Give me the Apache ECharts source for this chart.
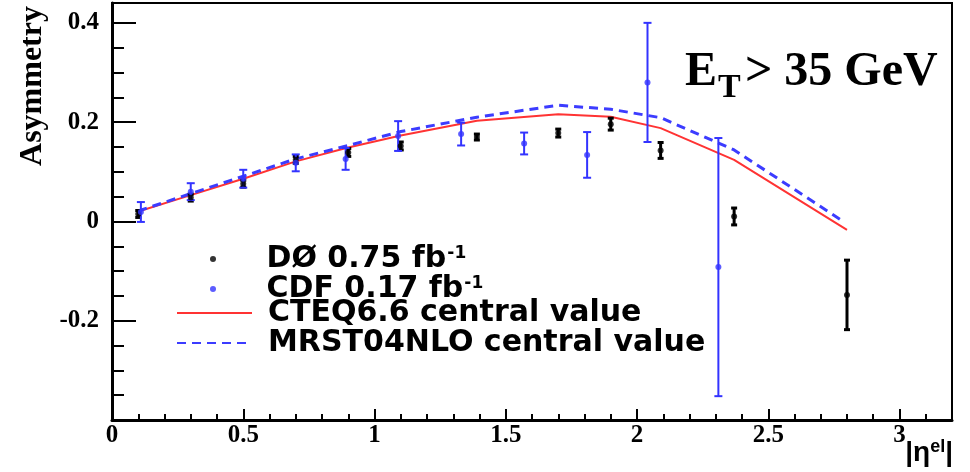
<!DOCTYPE html>
<html>
<head>
<meta charset="utf-8">
<script src="https://cdn.jsdelivr.net/npm/echarts/dist/echarts.min.js"></script>
<style>
  html, body { margin: 0; padding: 0; background: #fff; }
  #main { width: 970px; height: 472px; }
</style>
</head>
<body>
<div id="main"></div>
<script>
// DØ electron charge asymmetry, 0.75 fb-1
const d0Eta = [0.10, 0.30, 0.50, 0.70, 0.90, 1.10, 1.39, 1.70, 1.90, 2.09, 2.37, 2.80];
const d0Asym = [0.015, 0.048, 0.076, 0.124, 0.139, 0.152, 0.170, 0.178, 0.196, 0.143, 0.010, -0.148];
const d0Err = [0.007, 0.007, 0.007, 0.007, 0.008, 0.008, 0.006, 0.008, 0.012, 0.016, 0.017, 0.070];

// CDF, 0.17 fb-1
const cdfEta = [0.11, 0.30, 0.50, 0.70, 0.89, 1.09, 1.33, 1.57, 1.81, 2.04, 2.31];
const cdfAsym = [0.019, 0.060, 0.086, 0.118, 0.126, 0.172, 0.176, 0.157, 0.134, 0.280, -0.092];
const cdfErr = [0.020, 0.017, 0.018, 0.017, 0.022, 0.030, 0.023, 0.022, 0.046, 0.120, 0.260];

// theory predictions
const cteqEta = [0.10, 0.30, 0.50, 0.70, 0.90, 1.10, 1.39, 1.70, 1.90, 2.09, 2.37, 2.80];
const cteqAsym = [0.020, 0.053, 0.086, 0.121, 0.149, 0.173, 0.203, 0.216, 0.211, 0.188, 0.124, -0.017];
const mrstEta = [0.10, 0.30, 0.50, 0.70, 0.90, 1.10, 1.39, 1.70, 1.90, 2.09, 2.37, 2.78];
const mrstAsym = [0.021, 0.056, 0.091, 0.126, 0.153, 0.181, 0.210, 0.234, 0.226, 0.209, 0.144, 0.002];

const names = ['DØ 0.75 fb-1', 'CDF 0.17 fb-1', 'CTEQ6.6 central value', 'MRST04NLO central value'];

function pairs(xs, ys) {
  return xs.map(function (x, i) { return [x, ys[i]]; });
}

function triples(xs, ys, es) {
  return xs.map(function (x, i) { return [x, ys[i], es[i]]; });
}

// vertical error bar with small caps
function errorBar(color, cap, width) {
  return function (params, api) {
    const x = api.value(0);
    const top = api.coord([x, api.value(1) + api.value(2)]);
    const bot = api.coord([x, api.value(1) - api.value(2)]);
    const style = { stroke: color, lineWidth: width };
    return {
      type: 'group',
      children: [
        { type: 'line', shape: { x1: top[0], y1: top[1], x2: bot[0], y2: bot[1] }, style: style },
        { type: 'line', shape: { x1: top[0] - cap, y1: top[1], x2: top[0] + cap, y2: top[1] }, style: style },
        { type: 'line', shape: { x1: bot[0] - cap, y1: bot[1], x2: bot[0] + cap, y2: bot[1] }, style: style }
      ]
    };
  };
}

const legendFont = { fontFamily: 'DejaVu Sans', fontWeight: 'bold', color: '#000' };

// two stacked legends so the rows sit where the original ones do
function makeLegend(items, left, top) {
  return {
    data: items,
    orient: 'vertical',
    left: left,
    top: top,
    padding: 0,
    itemGap: 0,
    itemWidth: 75,
    itemHeight: 6,
    selectedMode: false,
    formatter: function (n) {
      const parts = n.split('fb-1');
      if (parts.length > 1) return '{t|' + parts[0] + 'fb}{s|-1}';
      return '{t|' + n + '}';
    },
    textStyle: {
      lineHeight: 28,
      padding: [0, 0, 0, 11],
      rich: {
        t: Object.assign({ fontSize: 30, lineHeight: 28 }, legendFont),
        s: Object.assign({ fontSize: 17, lineHeight: 28, verticalAlign: 'top', padding: [0, 0, 0, 1] }, legendFont)
      }
    }
  };
}

function getOption() {
  return {
    animation: false,
    backgroundColor: '#fff',
    grid: {
      left: 112, right: 18, top: 3, bottom: 52,
      show: true, borderColor: '#000', borderWidth: 2
    },
    legend: [
      makeLegend([{ name: names[0] }, { name: names[1] }], 210, 244),
      makeLegend([
        { name: names[2], itemStyle: { opacity: 0 } },
        { name: names[3], itemStyle: { opacity: 0 } }
      ], 176, 298)
    ],
    xAxis: [{
      type: 'value',
      position: 'bottom',
      min: 0,
      max: 3.2,
      interval: 0.5,
      axisLine: { onZero: false, lineStyle: { color: '#000', width: 3 } },
      axisTick: { inside: true, length: 11, lineStyle: { color: '#000', width: 2 } },
      axisLabel: {
        showMaxLabel: false,
        margin: 3,
        color: '#000',
        fontFamily: 'Liberation Serif',
        fontWeight: 'bold',
        fontSize: 25
      },
      splitLine: { show: false }
    }, {
      type: 'value',
      position: 'bottom',
      min: 0,
      max: 3.2,
      interval: 0.1,
      axisLine: { show: false, onZero: false },
      axisTick: { inside: true, length: 6, lineStyle: { color: '#000', width: 2 } },
      axisLabel: { show: false },
      splitLine: { show: false }
    }],
    yAxis: [{
      type: 'value',
      position: 'left',
      min: -0.4,
      max: 0.44,
      interval: 0.2,
      axisLine: { show: true, onZero: false, lineStyle: { color: '#000', width: 3 } },
      axisTick: { show: true, inside: true, length: 24, lineStyle: { color: '#000', width: 2 } },
      axisLabel: {
        showMinLabel: false,
        showMaxLabel: false,
        margin: 13,
        color: '#000',
        fontFamily: 'Liberation Serif',
        fontWeight: 'bold',
        fontSize: 25,
        formatter: function (v) { return String(Math.round(v * 10) / 10); }
      },
      splitLine: { show: false }
    }, {
      type: 'value',
      position: 'left',
      min: -0.4,
      max: 0.44,
      interval: 0.05,
      axisLine: { show: false, onZero: false },
      axisTick: { show: true, inside: true, length: 12, lineStyle: { color: '#000', width: 2 } },
      axisLabel: { show: false },
      splitLine: { show: false }
    }],
    graphic: [
      {
        type: 'text', x: 33, y: 86, rotation: Math.PI / 2,
        style: { text: 'Asymmetry', font: 'bold 32px "Liberation Serif"', fill: '#000', textAlign: 'center', textVerticalAlign: 'middle' }
      },
      { type: 'text', x: 685, y: 49, style: { text: 'E', font: 'bold 48px "Liberation Serif"', fill: '#000' } },
      { type: 'text', x: 718, y: 71, style: { text: 'T', font: 'bold 34px "Liberation Serif"', fill: '#000' } },
      { type: 'text', x: 745, y: 49, style: { text: '> 35 GeV', font: 'bold 48px "Liberation Serif"', fill: '#000' } },
      {
        // x axis title |eta^el|
        type: 'text', x: 953, y: 438,
        style: {
          text: '{t||η}{s|el}{t||}',
          align: 'right',
          verticalAlign: 'top',
          rich: {
            t: { fontFamily: 'Liberation Sans', fontWeight: 'bold', fontSize: 28, lineHeight: 30, fill: '#000' },
            s: { fontFamily: 'Liberation Sans', fontWeight: 'bold', fontSize: 18, lineHeight: 30, fill: '#000', verticalAlign: 'top' }
          }
        }
      }
    ],
    series: [{
      name: names[2],
      type: 'line',
      data: pairs(cteqEta, cteqAsym),
      symbol: 'none',
      showSymbol: false,
      lineStyle: { color: '#ff3333', width: 2 },
      itemStyle: { color: '#ff3333' },
      z: 2
    }, {
      name: names[3],
      type: 'line',
      data: pairs(mrstEta, mrstAsym),
      symbol: 'none',
      showSymbol: false,
      lineStyle: { color: '#3c3cff', width: 3, type: [9, 6] },
      itemStyle: { color: '#3c3cff' },
      z: 2
    }, {
      name: 'd0err',
      type: 'custom',
      data: triples(d0Eta, d0Asym, d0Err),
      encode: { x: 0, y: 1 },
      renderItem: errorBar('#000', 3, 3),
      z: 3
    }, {
      name: 'cdferr',
      type: 'custom',
      data: triples(cdfEta, cdfAsym, cdfErr),
      encode: { x: 0, y: 1 },
      renderItem: errorBar('#3333ff', 4, 2),
      z: 3
    }, {
      name: names[0],
      type: 'scatter',
      data: pairs(d0Eta, d0Asym),
      symbol: 'circle',
      symbolSize: 6,
      itemStyle: { color: '#000' },
      z: 4
    }, {
      name: names[1],
      type: 'scatter',
      data: pairs(cdfEta, cdfAsym),
      symbol: 'circle',
      symbolSize: 6,
      itemStyle: { color: '#3333ff' },
      z: 4
    }]
  };
}

let chart = echarts.init(document.getElementById('main'), null, { renderer: 'canvas' });
chart.setOption(getOption());
</script>
</body>
</html>
